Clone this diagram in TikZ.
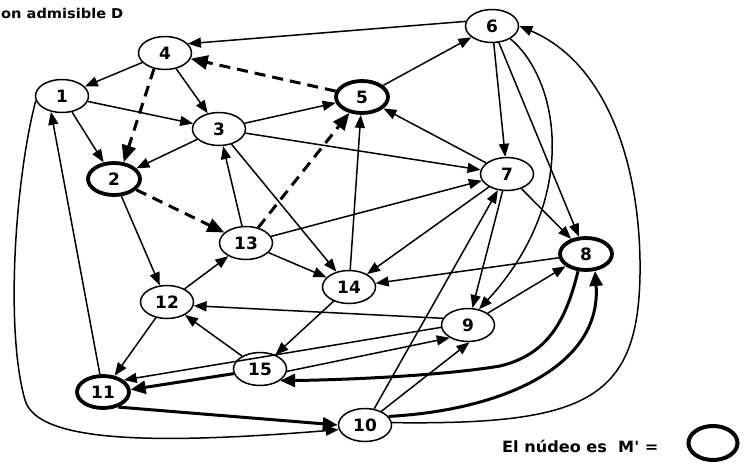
\documentclass[tikz,border=0pt]{standalone}
\usepackage{fontspec}
\setmainfont{DejaVu Sans}
\newfontfamily\legfont{DejaVu Sans}
\usetikzlibrary{shapes.geometric,arrows.meta}
\begin{document}
\begin{tikzpicture}[x=1pt,y=-1pt,
 v/.style={ellipse,draw,line width=1.5pt,minimum width=53pt,minimum height=33pt,inner sep=0pt,font=\fontsize{17}{17}\selectfont\bfseries},
 vk/.style={v,line width=3.8pt,minimum width=52pt,minimum height=32pt},
 e/.style={line width=1.5pt,-{Triangle[length=13pt,width=10pt]}},
 ed/.style={line width=3pt,dash pattern=on 11pt off 7pt,-{Triangle[length=17pt,width=14pt]}},
 et/.style={line width=3pt,-{Triangle[length=15pt,width=13pt]}}]
\useasboundingbox (0,0) rectangle (744,464);
\node[anchor=west,font=\fontsize{13.5}{13.5}\selectfont\bfseries,inner sep=0pt,xscale=1.08] (title) at (1,13) {on admisible D};
% nodes
\node[v]  (n1)  at (62,96)   {1};
\node[vk] (n2)  at (114,179) {2};
\node[v]  (n3)  at (219,129) {3};
\node[v]  (n4)  at (165,53)  {4};
\node[vk] (n5)  at (362,97)  {5};
\node[v]  (n6)  at (492,26)  {6};
\node[v]  (n7)  at (507,174) {7};
\node[vk] (n8)  at (586,254) {8};
\node[v]  (n9)  at (468,325) {9};
\node[v]  (n10) at (365,425) {10};
\node[vk] (n11) at (103,392) {11};
\node[v]  (n12) at (167,302) {12};
\node[v]  (n13) at (246,243) {13};
\node[v]  (n14) at (349,287) {14};
\node[v]  (n15) at (260,369) {15};
% thin edges
\draw[e] (n6.170) -- (n4.22);
\draw[e] (n4) -- (n1);
\draw[e] (n4) -- (n3);
\draw[e] (n1) -- (n2);
\draw[e] (n1) -- (n3);
\draw[e] (n3) -- (n5);
\draw[e] (n3) -- (n2);
\draw[e] (n3) -- (n7);
\draw[e] (n3) -- (n14);
\draw[e] (n13) -- (n3);
\draw[e] (n14) -- (n5);
\draw[e] (n13) -- (n7);
\draw[e] (n13) -- (n14);
\draw[e] (n2) -- (n12);
\draw[e] (n12) -- (n13);
\draw[e] (n12) -- (n11);
\draw[e] (n11.100) -- (n1.-125);
\draw[e] (n5) -- (n6);
\draw[e] (n7) -- (n5);
\draw[e] (n6) -- (n7);
\draw[e] (n6) -- (n8);
\draw[e] (n6.-35) .. controls (560,80) and (580,200) .. (n9.55);
\draw[e] (n10.5) .. controls (590,425) and (642,400) .. (640,260) .. controls (638,150) and (600,60) .. (n6.east);
\draw[e] (n7) -- (n8);
\draw[e] (n7) -- (n9);
\draw[e] (n7) -- (n14);
\draw[e] (n10) -- (n7);
\draw[e] (n8) -- (n14);
\draw[e] (n9) -- (n8);
\draw[e] (n9.165) -- (n12.-8);
\draw[e] (n9.185) -- (n11.30);
\draw[e] (n15.-5) -- (n9.215);
\draw[e] (n10.40) -- (n9.275);
\draw[e] (n14) -- (n15);
\draw[e] (n15) -- (n12);
\draw[e] (n1.190) .. controls (15,180) and (5,330) .. (25,400) .. controls (37,442) and (150,445) .. (n10.190);
% dashed thick edges
\draw[ed] (n5) -- (n4);
\draw[ed] (n4.235) -- (n2.60);
\draw[ed] (n2) -- (n13);
\draw[ed] (n13) -- (n5);
% thick edges
\draw[et] (n11.-45) -- (n10.180);
\draw[et] (n15.190) -- (n11.5);
\draw[et] (n10.20) .. controls (505,410) and (602,365) .. (n8.-62);
\draw[et] (n8.-115) .. controls (565,325) and (545,355) .. (500,366) .. controls (440,376) and (340,380) .. (n15.-30);
% legend
\node[anchor=west,font=\legfont\fontsize{15.5}{15.5}\selectfont\bfseries,inner sep=0pt,xscale=1.04] (leg) at (502,446) {El núdeo es\ \ M' =};
\node[ellipse,draw,line width=4pt,minimum width=49pt,minimum height=34pt] (mk) at (713,443) {};
\end{tikzpicture}
\end{document}
